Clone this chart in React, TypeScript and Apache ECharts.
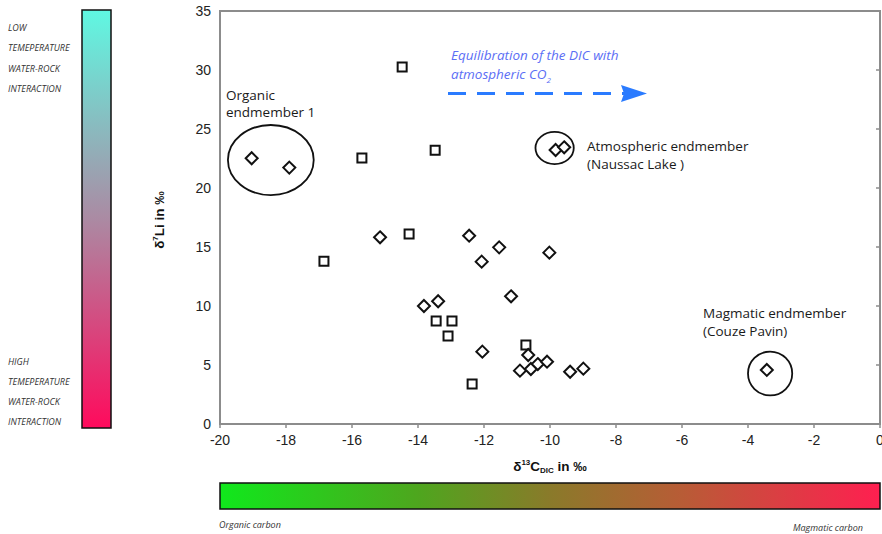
import React, { useEffect, useRef } from 'react';
import * as echarts from 'echarts';

// δ13C_DIC (‰), δ7Li (‰)
const squarePoints: [number, number][] = [
  [-14.48, 30.25], [-15.7, 22.54], [-13.48, 23.2], [-16.85, 13.8], [-14.27, 16.1],
  [-13.45, 8.73], [-12.97, 8.73], [-13.09, 7.46], [-12.36, 3.39], [-10.73, 6.69],
];
const diamondPoints: [number, number][] = [
  [-19.04, 22.52], [-17.9, 21.73], [-9.83, 23.22], [-9.57, 23.45],
  [-15.15, 15.82], [-12.45, 15.96], [-11.54, 14.97], [-12.07, 13.76], [-10.02, 14.52],
  [-11.18, 10.82], [-13.82, 10.0], [-13.39, 10.4], [-12.05, 6.13], [-10.66, 5.85],
  [-10.91, 4.52], [-10.58, 4.66], [-10.37, 5.08], [-10.09, 5.28], [-9.39, 4.43], [-8.99, 4.69],
  [-3.43, 4.58],
];
// endmember groupings: center (data units) and radii (data units)
const endmemberEllipses: { c: [number, number]; rx: number; ry: number }[] = [
  { c: [-18.46, 22.37], rx: 1.3, ry: 2.97 },
  { c: [-9.86, 23.39], rx: 0.58, ry: 1.36 },
  { c: [-3.33, 4.28], rx: 0.67, ry: 1.86 },
];
const leftTopLabels = ['LOW', 'TEMEPERATURE', 'WATER-ROCK', 'INTERACTION'];
const leftBottomLabels = ['HIGH', 'TEMEPERATURE', 'WATER-ROCK', 'INTERACTION'];

const ANN_FONT = '"Open Sans", "Noto Sans", sans-serif';
const AX_FONT = '"Liberation Sans", Arial, sans-serif';

export default function App() {
  const ref = useRef<HTMLDivElement>(null);
  useEffect(() => {
    if (!ref.current) return;
    const chart = echarts.init(ref.current, undefined, { renderer: 'svg' });
    const axisLine = { show: true, lineStyle: { color: '#8c8c8c', width: 2 } };
    const axisTick = { show: true, inside: false, length: 4, lineStyle: { color: '#8c8c8c', width: 1.5 } };
    chart.setOption({
      animation: false,
      grid: {
        left: 220, top: 11, right: 2, bottom: 110, show: true, borderColor: '#8c8c8c', borderWidth: 2,
        backgroundColor: 'transparent', containLabel: false, outerBoundsMode: 'none',
      },
      xAxis: {
        type: 'value', min: -20, max: 0, interval: 2,
        axisLine, axisTick, splitLine: { show: false },
        axisLabel: { color: '#222', fontSize: 14, fontFamily: AX_FONT, margin: 9 },
      },
      yAxis: {
        type: 'value', min: 0, max: 35, interval: 5,
        axisLine, axisTick, splitLine: { show: false },
        axisLabel: { color: '#222', fontSize: 14, fontFamily: AX_FONT, margin: 9 },
      },
      series: [
        {
          type: 'scatter', name: 'squares', data: squarePoints, symbol: 'rect', symbolSize: 9,
          itemStyle: { color: '#fff', borderColor: '#111', borderWidth: 2, opacity: 1 },
        },
        {
          type: 'scatter', name: 'diamonds', data: diamondPoints, symbol: 'diamond', symbolSize: 12,
          itemStyle: { color: '#fff', borderColor: '#111', borderWidth: 2, opacity: 1 },
        },
      ],
    });

    const px = (p: [number, number]) => chart.convertToPixel({ gridIndex: 0 }, p) as number[];
    const ellipses = endmemberEllipses.map((e) => {
      const c = px(e.c);
      const r = px([e.c[0] + e.rx, e.c[1] + e.ry]);
      return {
        type: 'ellipse',
        shape: { cx: c[0], cy: c[1], rx: Math.abs(r[0] - c[0]), ry: Math.abs(r[1] - c[1]) },
        style: { fill: 'none', stroke: '#111', lineWidth: 1.8 },
        z: 10,
      };
    });
    const annText = (text: string, x: number, y: number) => ({
      type: 'text', x, y, z: 10,
      style: { text, fill: '#1a1a1a', fontSize: 13.5, fontFamily: ANN_FONT, verticalAlign: 'middle', align: 'left' },
    });
    const sideLabel = (text: string, y: number) => ({
      type: 'text', x: 8, y,
      style: { text, fill: '#333', fontSize: 9, fontStyle: 'italic', fontFamily: ANN_FONT, verticalAlign: 'middle' },
    });

    chart.setOption({
      graphic: [
        ...ellipses,
        annText('Organic', 226, 95),
        annText('endmember 1', 226, 112),
        annText('Atmospheric endmember', 587, 146),
        annText('(Naussac Lake )', 587, 164),
        annText('Magmatic endmember', 703, 313),
        annText('(Couze Pavin)', 703, 331),
        {
          type: 'text', x: 451, y: 55, z: 10,
          style: { text: 'Equilibration of the DIC with', fill: '#5b6ef5', fontSize: 13.5, fontStyle: 'italic', fontFamily: ANN_FONT, verticalAlign: 'middle' },
        },
        {
          type: 'text', x: 451, y: 74, z: 10,
          style: {
            text: '{a|atmospheric CO}{s|2}', verticalAlign: 'middle',
            rich: {
              a: { fill: '#5b6ef5', fontSize: 13.5, fontStyle: 'italic', fontFamily: ANN_FONT, lineHeight: 18 },
              s: { fill: '#5b6ef5', fontSize: 8, fontStyle: 'italic', fontFamily: ANN_FONT, verticalAlign: 'bottom', lineHeight: 18 },
            },
          },
        },
        {
          type: 'line', z: 10,
          shape: { x1: 448, y1: 93.5, x2: 626, y2: 93.5 },
          style: { stroke: '#2a7bff', lineWidth: 3, lineDash: [18, 11] },
        },
        {
          type: 'polygon', z: 10,
          shape: { points: [[621, 85], [647, 93.5], [621, 102], [624, 93.5]] },
          style: { fill: '#2a7bff' },
        },
        // axis names
        {
          type: 'text', x: 550, y: 466,
          style: {
            text: '{b|δ}{sup|13}{b|C}{sub|DIC}{b| in ‰}', align: 'center', verticalAlign: 'middle',
            rich: {
              b: { fill: '#111', fontSize: 13.5, fontWeight: 'bold', fontFamily: AX_FONT, lineHeight: 16 },
              sup: { fill: '#111', fontSize: 8, fontWeight: 'bold', fontFamily: AX_FONT, verticalAlign: 'top', lineHeight: 16 },
              sub: { fill: '#111', fontSize: 8, fontWeight: 'bold', fontFamily: AX_FONT, verticalAlign: 'bottom', lineHeight: 16 },
            },
          },
        },
        {
          type: 'text', x: 159, y: 220, rotation: Math.PI / 2,
          style: {
            text: '{b|δ}{sup|7}{b|Li in ‰}', align: 'center', verticalAlign: 'middle',
            rich: {
              b: { fill: '#111', fontSize: 13.5, fontWeight: 'bold', fontFamily: AX_FONT, lineHeight: 16 },
              sup: { fill: '#111', fontSize: 8, fontWeight: 'bold', fontFamily: AX_FONT, verticalAlign: 'top', lineHeight: 16 },
            },
          },
        },
        // left colour bar
        {
          type: 'rect', shape: { x: 82, y: 10, width: 29, height: 418 },
          style: {
            stroke: '#111', lineWidth: 1.5,
            fill: new echarts.graphic.LinearGradient(0, 0, 0, 1, [
              { offset: 0, color: '#5ff8e2' },
              { offset: 0.5, color: '#ab8aa3' },
              { offset: 1, color: '#ff0a5c' },
            ]),
          },
        },
        ...leftTopLabels.map((t, i) => sideLabel(t, 27 + i * 20.5)),
        ...leftBottomLabels.map((t, i) => sideLabel(t, 361.5 + i * 20)),
        // bottom colour bar
        {
          type: 'rect', shape: { x: 220, y: 483, width: 660, height: 26 },
          style: {
            stroke: '#111', lineWidth: 1.5,
            fill: new echarts.graphic.LinearGradient(0, 0, 1, 0, [
              { offset: 0, color: '#10e81c' },
              { offset: 0.3, color: '#4ea61e' },
              { offset: 0.5, color: '#8a7a2a' },
              { offset: 0.7, color: '#b85c36' },
              { offset: 1, color: '#ff1f50' },
            ]),
          },
        },
        {
          type: 'text', x: 219, y: 524,
          style: { text: 'Organic carbon', fill: '#333', fontSize: 9, fontStyle: 'italic', fontFamily: ANN_FONT, verticalAlign: 'middle' },
        },
        {
          type: 'text', x: 863, y: 527,
          style: { text: 'Magmatic carbon', fill: '#333', fontSize: 9, fontStyle: 'italic', fontFamily: ANN_FONT, verticalAlign: 'middle', align: 'right' },
        },
      ],
    });
    return () => chart.dispose();
  }, []);
  return <div ref={ref} style={{ position: 'absolute', left: 0, top: 0, width: 882, height: 534, background: '#fff' }} />;
}
